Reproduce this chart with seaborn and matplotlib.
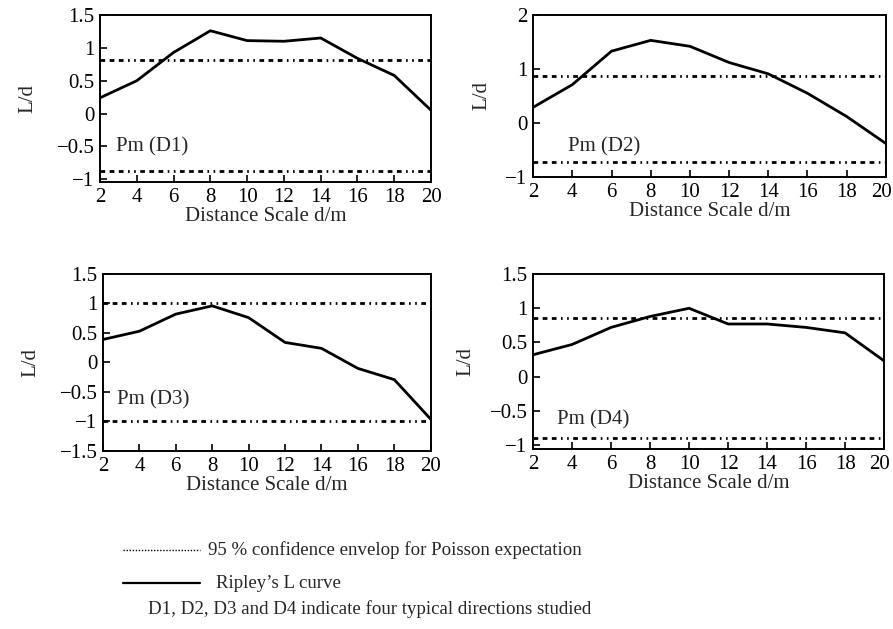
import numpy as np
import pandas as pd
import seaborn as sns
import matplotlib.pyplot as plt
import matplotlib.transforms as mtransforms

# distance scale (m)
distance = [2, 4, 6, 8, 10, 12, 14, 16, 18, 20]

# Ripley's L curve per direction
l_d1 = [0.24, 0.50, 0.93, 1.26, 1.11, 1.10, 1.15, 0.84, 0.58, 0.05]
l_d2 = [0.29, 0.71, 1.33, 1.53, 1.42, 1.12, 0.91, 0.55, 0.12, -0.38]
l_d3 = [0.39, 0.53, 0.82, 0.96, 0.76, 0.34, 0.24, -0.10, -0.29, -0.96]
l_d4 = [0.32, 0.47, 0.72, 0.88, 1.00, 0.77, 0.77, 0.72, 0.64, 0.23]

# 95 % confidence envelope (upper, lower)
env_d1 = [0.82, -0.88]
env_d2 = [0.87, -0.72]
env_d3 = [1.00, -1.00]
env_d4 = [0.86, -0.90]

panel_names = ['Pm (D1)', 'Pm (D2)', 'Pm (D3)', 'Pm (D4)']
yticks = [[1.5, 1, 0.5, 0, -0.5, -1],
          [2, 1, 0, -1],
          [1.5, 1, 0.5, 0, -0.5, -1, -1.5],
          [1.5, 1, 0.5, 0, -0.5, -1]]
ylims = [(-1.04, 1.5), (-1.0, 2.0), (-1.5, 1.5), (-1.06, 1.5)]


def tick_text(v):
    return ('%g' % v).replace('-', '\u2212')


sns.set_style('ticks')
plt.rcParams['font.family'] = ['Liberation Serif', 'DejaVu Serif']
fs = 15

fig = plt.figure(figsize=(8.93, 6.29), dpi=100)
positions = [[0.112, 0.7107, 0.3707, 0.2655],
             [0.597, 0.7186, 0.395, 0.2576],
             [0.1153, 0.283, 0.367, 0.2814],
             [0.597, 0.2862, 0.393, 0.278]]
curves = [l_d1, l_d2, l_d3, l_d4]
envs = [env_d1, env_d2, env_d3, env_d4]
label_pos = [(2.87, -0.5), (3.8, -0.45), (2.75, -0.64), (3.2, -0.63)]
ylab_pad = [14, 10, 14, 10]

dash_style = (0, (1.7, 1.6, 1.7, 1.6, 1.7, 1.6, 0.6, 1.6, 0.6, 1.6))

for i in range(4):
    ax = fig.add_axes(positions[i])
    df = pd.DataFrame({'d': distance, 'L': curves[i]})
    sns.lineplot(data=df, x='d', y='L', color='black', linewidth=2.0, ax=ax)
    for v in envs[i]:
        ax.axhline(v, color='black', linewidth=2.0, linestyle=dash_style)
    ax.set_xlim(2, 20)
    ax.set_ylim(*ylims[i])
    ax.set_xticks(distance)
    ax.set_xticklabels([str(d) for d in distance], fontsize=fs)
    ax.set_yticks(yticks[i])
    ax.set_yticklabels([tick_text(v) for v in yticks[i]], fontsize=fs)
    ax.tick_params(direction='in', length=5, width=1.2, pad=4, colors='black')
    ax.set_xlabel('Distance Scale d/m', fontsize=fs, labelpad=0)
    ax.set_ylabel('L/d', fontsize=fs, labelpad=ylab_pad[i])
    ax.text(label_pos[i][0], label_pos[i][1], panel_names[i], fontsize=fs,
            ha='left', va='center')
    for s in ax.spines.values():
        s.set_color('black')
        s.set_linewidth(1.4)
    if i in (1, 3):
        # keep the last label inside the figure, as in the scan
        last = ax.get_xticklabels()[-1]
        last.set_horizontalalignment('right')
        last.set_transform(last.get_transform() +
                           mtransforms.ScaledTranslation(6 / 100, 0, fig.dpi_scale_trans))

# legend block at the bottom
lfs = 13.6
fig.add_artist(plt.Line2D([123 / 893, 200 / 893], [1 - 550 / 629] * 2,
                          color='black', linewidth=1.0, linestyle=(0, (1, 1.2))))
fig.text(208 / 893, 1 - 550 / 629, '95 % confidence envelop for Poisson expectation',
         fontsize=lfs, ha='left', va='center')
fig.add_artist(plt.Line2D([123 / 893, 200 / 893], [1 - 583 / 629] * 2,
                          color='black', linewidth=1.6))
fig.text(216 / 893, 1 - 583 / 629, 'Ripley\u2019s L curve',
         fontsize=lfs, ha='left', va='center')
fig.text(148 / 893, 1 - 609 / 629, 'D1, D2, D3 and D4 indicate four typical directions studied',
         fontsize=lfs, ha='left', va='center')

fig.savefig('out.png', dpi=100)
